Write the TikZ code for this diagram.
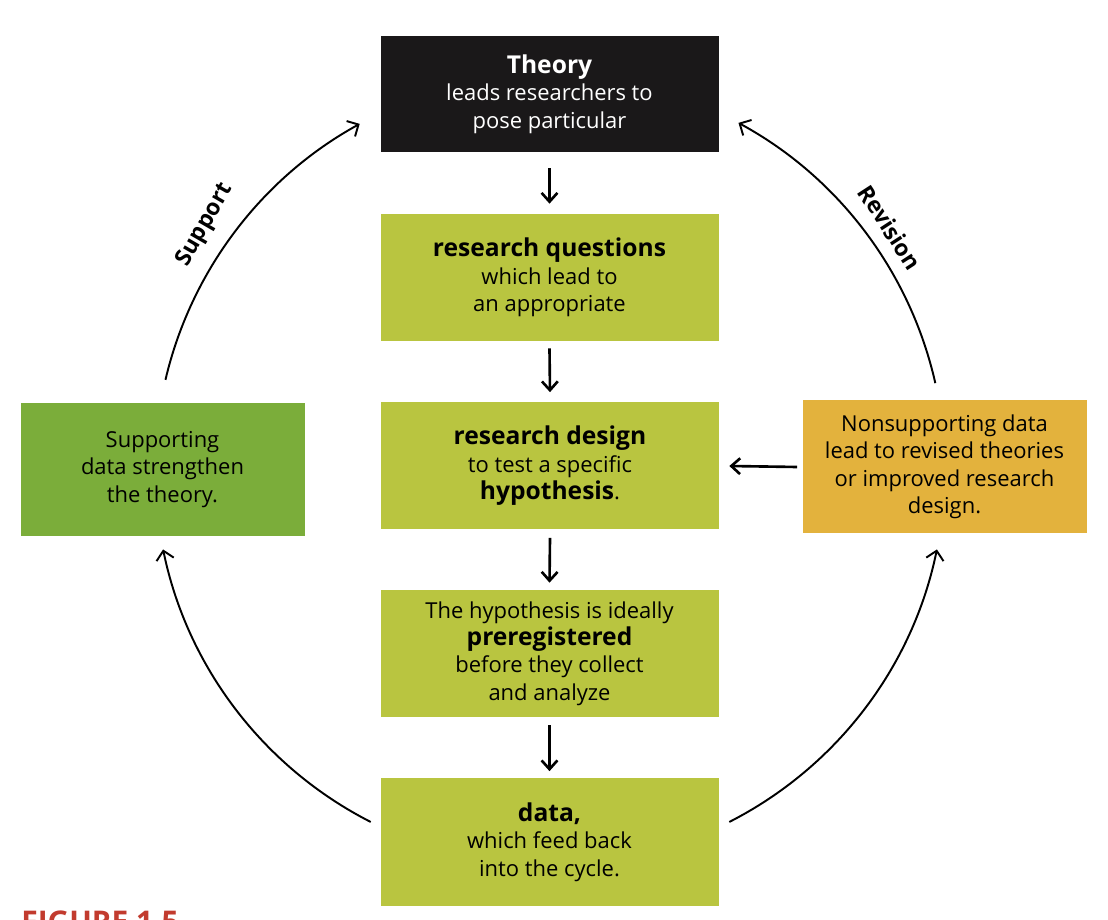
\documentclass[tikz,border=0pt]{standalone}
\usepackage{fontspec}
\setmainfont{Open Sans}
\usepackage{tikz}
\usetikzlibrary{positioning, arrows.meta, calc}
\definecolor{olivebox}{HTML}{B9C540}
\definecolor{leafbox}{HTML}{7BAD3A}
\definecolor{goldbox}{HTML}{E3B23D}
\definecolor{darkbox}{HTML}{1A1819}
\definecolor{figred}{HTML}{C23B2E}
\tikzset{
    stepbox/.style={
        rectangle, fill=olivebox, minimum width=6.76cm, minimum height=2.54cm,
        align=center, inner sep=2pt, font=\fontsize{12.5}{15.6}\selectfont
    },
    sidebox/.style={
        rectangle, minimum width=5.68cm, minimum height=2.66cm,
        align=center, inner sep=2pt, font=\fontsize{12.5}{15.6}\selectfont
    },
    arrow/.style={
        -{Straight Barb[length=5pt,width=9pt]}, line width=1.5pt, draw=black
    },
    cyclearrow/.style={
        -{Straight Barb[length=5pt,width=10pt]}, line width=1.1pt, draw=black
    },
    arclabel/.style={
        font=\bfseries\fontsize{13}{15}\selectfont
    }
}
\begin{document}
\begin{tikzpicture}
    \useasboundingbox (0,0) rectangle (22.16,-18.4);
    \fill[white] (0,0) rectangle (22.16,-18.4);

    \node[stepbox, fill=darkbox, text=white, minimum height=2.32cm] (theory) at (10.99,-1.88)
        {{\bfseries\fontsize{14}{17}\selectfont Theory}\\leads researchers to\\pose particular};
    \node[stepbox] (questions) at (10.99,-5.55)
        {{\bfseries\fontsize{14}{17}\selectfont research questions}\\which lead to\\an appropriate};
    \node[stepbox] (design) at (11.0,-9.32)
        {{\bfseries\fontsize{14}{17}\selectfont research design}\\to test a specific\\{\bfseries\fontsize{14}{17}\selectfont hypothesis}.};
    \node[stepbox] (prereg) at (10.99,-13.07)
        {The hypothesis is ideally\\{\bfseries\fontsize{14}{17}\selectfont preregistered}\\before they collect\\and analyze};
    \node[stepbox] (data) at (10.99,-16.84)
        {{\bfseries\fontsize{14}{17}\selectfont data,}\\which feed back\\into the cycle.};

    \node[sidebox, fill=leafbox] (support) at (3.25,-9.39)
        {Supporting\\data strengthen\\the theory.};
    \node[sidebox, fill=goldbox] (revise) at (18.89,-9.34)
        {Nonsupporting data\\lead to revised theories\\or improved research\\design.};

    % steps down the middle
    \draw[arrow] ([yshift=-0.32cm]theory.south) -- ([yshift=0.2cm]questions.north);
    \draw[arrow] ([yshift=-0.14cm]questions.south) -- ([yshift=0.2cm]design.north);
    \draw[arrow] ([yshift=-0.16cm]design.south) -- ([yshift=0.14cm]prereg.north);
    \draw[arrow] ([yshift=-0.16cm]prereg.south) -- ([yshift=0.14cm]data.north);
    \draw[arrow] ([xshift=-0.1cm]revise.west) -- ([xshift=0.2cm]design.east);

    % the cycle around
    \coordinate (hub) at (11.0,-9.4);
    \draw[cyclearrow] (hub) ++(166.8:7.9) arc[start angle=166.8, end angle=118.8, radius=7.9];
    \draw[cyclearrow] (hub) ++(12.7:7.9) arc[start angle=12.7, end angle=61.5, radius=7.9];
    \draw[cyclearrow] (hub) ++(-117:7.9) arc[start angle=-117, end angle=-168.4, radius=7.9];
    \draw[cyclearrow] (hub) ++(-63:7.9) arc[start angle=-63, end angle=-11.6, radius=7.9];

    \node[arclabel, rotate=60] (supportlabel) at (4.1,-4.5) {Support};
    \node[arclabel, rotate=-57] (revisionlabel) at (17.8,-4.55) {Revision};

    \begin{scope}
        \clip (0,0) rectangle (22.16,-18.4);
        \node[anchor=north west, text=figred, font=\bfseries\fontsize{17}{20}\selectfont, inner sep=0pt]
            (figlabel) at (0.42,-18.22) {FIGURE 1.5};
    \end{scope}
\end{tikzpicture}
\end{document}
